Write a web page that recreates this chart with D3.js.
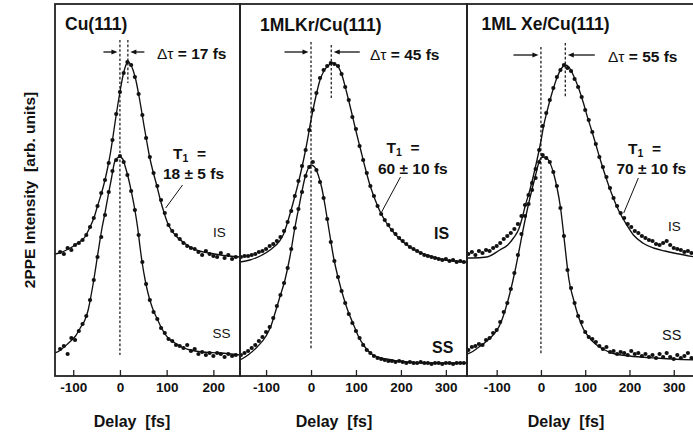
<!DOCTYPE html>
<html>
<head>
<meta charset="utf-8">
<script src="https://cdn.jsdelivr.net/npm/d3@7"></script>
<style>
html, body { margin: 0; padding: 0; background: #fff; }
svg { display: block; font-family: "Liberation Sans", Arial, Helvetica, sans-serif; }
text { white-space: pre; fill: #111; }
</style>
</head>
<body>
<svg id="chart" width="693" height="436"></svg>
<script>
// ---- Data: time-resolved 2PPE traces, image state (IS) and surface state (SS) ----
const panelTitles = ["Cu(111)", "1MLKr/Cu(111)", "1ML Xe/Cu(111)"];
const shiftValues = [17, 45, 55];                       // Δτ, fs
const lifetimeLabels = ["18 ± 5 fs", "60 ± 10 fs", "70 ± 10 fs"];
const tickValues = [[-100, 0, 100, 200], [-100, 0, 100, 200, 300], [-100, 0, 100, 200, 300]];
const delayDomains = [[-139, 257], [-158, 347], [-167, 348]];
const intensityDomain = [0, 372];

// Cu(111)
const cuDelays = [-128,-120,-112,-104,-96,-88,-80,-72,-64,-56,-48,-40,-32,-24,-16,-8,0,8,16,24,32,40,48,56,64,72,80,88,96,104,112,120,128,136,144,152,160,168,176,184,192,200,208,216,224,232,240,248];
const cuIS = [124,122,128,126,131,133,136,141,149,158,170,183,196,213,236,262,284,303,314,311,299,282,261,238,219,203,190,176,163,151,145,141,137,133,130,128,127,124,121,125,122,120,119,123,118,121,117,119];
const cuSS = [27,30,22,38,36,45,52,60,76,96,119,139,161,184,205,216,220,214,201,185,166,141,114,92,76,64,57,48,43,37,35,31,30,28,31,25,27,22,24,21,23,20,23,22,19,22,20,21];
const cuFitIS = [[-139,122],[-130,123],[-110,127],[-90,133],[-75,139],[-65,148],[-55,159],[-48,170],[-40,182],[-32,196],[-26,209],[-20,224],[-15,239],[-10,255],[-5,270],[0,284],[5,297],[10,307],[15,313],[18,314],[22,312],[28,306],[34,296],[40,282],[46,266],[52,249],[58,233],[64,218],[70,206],[78,192],[86,177],[94,164],[102,153],[110,146],[120,140],[135,134],[150,129],[170,125],[190,123],[215,121],[257,119]];
const cuFitSS = [[-139,23],[-130,25],[-110,33],[-95,40],[-85,48],[-75,56],[-68,66],[-62,80],[-56,96],[-50,114],[-44,132],[-38,149],[-32,163],[-25,181],[-18,198],[-12,213],[-6,218],[0,219],[6,217],[11,210],[18,198],[25,183],[32,166],[38,148],[43,129],[48,112],[54,96],[60,83],[66,73],[72,65],[80,57],[90,47],[103,38],[118,33],[132,29],[150,26],[175,24],[215,23],[257,21]];

// 1 ML Kr/Cu(111)
const krDelays = [-156,-148,-140,-132,-124,-116,-108,-100,-92,-84,-76,-68,-60,-52,-44,-36,-28,-20,-12,-4,4,12,20,28,36,44,52,60,68,76,84,92,100,108,116,124,132,140,148,156,164,172,180,188,196,204,212,220,228,236,244,252,260,268,276,284,292,300,308,316,324,332,340];
const krIS = [119,120,120,121,122,124,125,127,130,132,135,139,145,154,165,180,195,210,226,246,266,283,298,306,310,313,312,310,302,289,276,259,247,230,216,203,190,180,170,162,156,151,146,142,138,135,132,129,127,125,123,121,120,119,118,117,116,117,115,116,114,115,114];
const krSS = [21,23,25,28,31,35,39,44,49,58,70,81,93,108,127,148,167,184,200,209,214,206,194,178,157,134,115,99,85,73,62,53,45,38,31,26,23,20,18,17,16,15,15,14,15,14,13,14,13,13,14,13,13,12,13,13,12,13,13,12,13,13,13];
const krFitIS = [[-158,114],[-136,116],[-113,120],[-91,126],[-70,135],[-62,141],[-50,157],[-40,173],[-30,190],[-20,209],[-10,231],[0,256],[10,278],[20,296],[30,306],[40,311],[47,313],[57,311],[68,302],[79,284],[90,264],[100,245],[110,227],[120,209],[131,191],[142,177],[153,165],[168,153],[183,144],[205,134],[227,127],[257,121],[287,117],[347,114]];
const krFitSS = [[-158,16],[-140,21],[-120,29],[-100,40],[-90,49],[-80,63],[-70,78],[-58,96],[-47,119],[-36,148],[-26,171],[-13,199],[0,211],[8,209],[16,201],[24,188],[31,171],[40,146],[50,119],[61,97],[72,79],[83,64],[94,52],[105,40],[120,29],[138,21],[168,17],[213,14],[260,13],[347,13]];

// 1 ML Xe/Cu(111)
const xeDelays = [-164,-156,-148,-140,-132,-124,-116,-108,-100,-92,-84,-76,-68,-60,-52,-44,-36,-28,-20,-12,-4,4,12,20,28,36,44,52,60,68,76,84,92,100,108,116,124,132,140,148,156,164,172,180,188,196,204,212,220,228,236,244,252,260,268,276,284,292,300,308,316,324,332,340];
const xeIS = [122,124,121,125,123,126,125,128,130,133,137,140,143,147,152,160,171,181,193,207,226,250,263,276,288,299,306,311,308,305,297,289,279,266,256,244,232,219,209,199,188,178,170,163,158,152,149,145,143,140,138,136,135,132,131,133,135,131,128,127,126,124,125,123];
const xeSS = [26,29,30,32,31,36,38,43,46,54,64,73,87,103,121,142,160,172,186,198,214,221,218,214,204,190,168,140,106,88,73,60,54,44,39,37,34,30,27,29,24,25,22,24,23,21,25,22,23,20,22,19,21,18,22,19,23,19,17,21,18,20,23,18];
const xeFitIS = [[-167,118],[-156,118],[-122,119],[-93,126],[-75,131],[-62,138],[-50,147],[-43,157],[-35,171],[-25,186],[-15,204],[-5,224],[0,235],[6,250],[14,265],[25,283],[36,298],[47,308],[55,311],[63,309],[74,300],[85,288],[96,273],[105,259],[115,245],[125,230],[135,215],[145,201],[160,182],[175,166],[194,151],[209,141],[230,133],[254,128],[280,125],[300,123],[348,119]];
const xeFitSS = [[-167,22],[-156,24],[-140,29],[-122,35],[-108,41],[-99,46],[-90,54],[-80,67],[-70,83],[-60,102],[-50,124],[-40,147],[-30,168],[-20,187],[-12,201],[-5,213],[0,218],[8,219],[17,216],[29,202],[36,189],[44,169],[51,143],[57,119],[63,97],[74,76],[85,59],[96,47],[108,39],[123,32],[140,27],[160,23],[200,20],[260,18],[348,16]];

const series = [
  { delays: cuDelays, is: cuIS, ss: cuSS, fitIS: cuFitIS, fitSS: cuFitSS },
  { delays: krDelays, is: krIS, ss: krSS, fitIS: krFitIS, fitSS: krFitSS },
  { delays: xeDelays, is: xeIS, ss: xeSS, fitIS: xeFitIS, fitSS: xeFitSS }
];

// ---- Layout (pixels) ----
const plotTop = 4, plotBottom = 376;
const layout = [
  { x0: 55, x1: 240, title: [65, 30], dtau: [157, 59], arrowY: 52, arrowLen: [14, 14],
    zeroLine: [40, 355], shiftLine: [40, 83], t1: [173, 159], life: [163, 179],
    leader: [[134, 191], [98, 168]],
    isLbl: [213, 237, 13.5, "normal"], ssLbl: [212.5, 338, 13.5, "normal"], delayX: 132 },
  { x0: 240, x1: 467, title: [260, 31], dtau: [370, 60], arrowY: 52, arrowLen: [24, 26],
    zeroLine: [42, 349], shiftLine: [45, 98], t1: [386.5, 153], life: [378, 174],
    leader: [[199, 199], [157, 164]],
    isLbl: [434, 239, 16, "bold"], ssLbl: [432, 353, 16, "bold"], delayX: 334 },
  { x0: 467, x1: 695, title: [481.5, 30], dtau: [608, 61.5], arrowY: 55, arrowLen: [25, 27],
    zeroLine: [47, 355], shiftLine: [43, 98], t1: [628, 154], life: [616.5, 173.5],
    leader: [[220, 198], [187, 163]],
    isLbl: [668, 231, 13.5, "normal"], ssLbl: [662, 340, 14.5, "normal"], delayX: 566 }
];

const svg = d3.select("#chart");
const y = d3.scaleLinear().domain(intensityDomain).range([plotBottom, plotTop]);
const defs = svg.append("defs");
const ink = "#111";

series.forEach((s, i) => {
  const L = layout[i];
  const x = d3.scaleLinear().domain(delayDomains[i]).range([L.x0, L.x1]);
  const g = svg.append("g");

  defs.append("clipPath").attr("id", "clip" + i)
    .append("rect").attr("x", L.x0).attr("y", plotTop)
    .attr("width", L.x1 - L.x0).attr("height", plotBottom - plotTop);
  const plot = g.append("g").attr("clip-path", `url(#clip${i})`);

  // vertical markers at zero delay and at the IS peak shift
  plot.append("line")
    .attr("x1", x(0)).attr("x2", x(0))
    .attr("y1", L.zeroLine[0]).attr("y2", L.zeroLine[1])
    .attr("stroke", ink).attr("stroke-width", 1.2).attr("stroke-dasharray", "2.6,2");
  plot.append("line")
    .attr("x1", x(shiftValues[i])).attr("x2", x(shiftValues[i]))
    .attr("y1", L.shiftLine[0]).attr("y2", L.shiftLine[1])
    .attr("stroke", ink).attr("stroke-width", 1.2).attr("stroke-dasharray", "2.6,2");

  // fitted curves
  const line = d3.line().x(d => x(d[0])).y(d => y(d[1])).curve(d3.curveMonotoneX);
  [s.fitIS, s.fitSS].forEach(f => {
    plot.append("path").datum(f).attr("d", line)
      .attr("fill", "none").attr("stroke", ink).attr("stroke-width", 1.35);
  });

  // measured points
  [s.is, s.ss].forEach(vals => {
    plot.selectAll(null).data(s.delays.map((t, k) => [t, vals[k]])).enter()
      .append("circle")
      .attr("cx", d => x(d[0])).attr("cy", d => y(d[1])).attr("r", 2.1)
      .attr("fill", ink);
  });

  // bottom axis with inward ticks
  const axis = d3.axisBottom(x).tickValues(tickValues[i])
    .tickSizeInner(-6).tickSizeOuter(0).tickPadding(6)
    .tickFormat(d => String(d));
  const ax = g.append("g").attr("transform", `translate(0,${plotBottom})`).call(axis);
  ax.select(".domain").remove();
  ax.selectAll(".tick line").attr("stroke", "#222").attr("stroke-width", 1.3);
  ax.selectAll(".tick text").attr("font-size", 13.5).attr("font-weight", "bold")
    .attr("font-family", "Liberation Sans, Arial, sans-serif").attr("fill", ink);

  // panel frame
  g.append("rect").attr("x", L.x0).attr("y", plotTop)
    .attr("width", L.x1 - L.x0).attr("height", plotBottom - plotTop)
    .attr("fill", "none").attr("stroke", "#222").attr("stroke-width", 1.8);

  // title
  g.append("text").attr("x", L.title[0]).attr("y", L.title[1])
    .attr("font-size", 17.5).attr("font-weight", "bold").text(panelTitles[i]);

  // Δτ arrows
  const tipL = x(0) - 2.5, tipR = x(shiftValues[i]) + 2.5, ay = L.arrowY;
  g.append("line").attr("x1", tipL - L.arrowLen[0]).attr("x2", tipL - 5)
    .attr("y1", ay).attr("y2", ay).attr("stroke", ink).attr("stroke-width", 1.3);
  g.append("path").attr("d", `M${tipL},${ay}L${tipL - 6},${ay - 2.6}L${tipL - 6},${ay + 2.6}Z`).attr("fill", ink);
  g.append("line").attr("x1", tipR + L.arrowLen[1]).attr("x2", tipR + 5)
    .attr("y1", ay).attr("y2", ay).attr("stroke", ink).attr("stroke-width", 1.3);
  g.append("path").attr("d", `M${tipR},${ay}L${tipR + 6},${ay - 2.6}L${tipR + 6},${ay + 2.6}Z`).attr("fill", ink);

  const dt = g.append("text").attr("x", L.dtau[0]).attr("y", L.dtau[1]).attr("font-size", 15.5);
  dt.append("tspan").attr("font-weight", "normal").text("Δτ");
  dt.append("tspan").attr("font-weight", "bold").text(` = ${shiftValues[i]} fs`);

  // lifetime annotation
  const t1 = g.append("text").attr("x", L.t1[0]).attr("y", L.t1[1])
    .attr("font-size", 15.5).attr("font-weight", "bold");
  t1.append("tspan").text("T");
  t1.append("tspan").attr("font-size", 10.5).attr("dy", 3).text("1");
  t1.append("tspan").attr("dy", -3).text("  =");
  g.append("text").attr("x", L.life[0]).attr("y", L.life[1])
    .attr("font-size", 15.5).attr("font-weight", "bold").text(lifetimeLabels[i]);
  g.append("line")
    .attr("x1", x(L.leader[0][0])).attr("y1", y(L.leader[0][1]))
    .attr("x2", x(L.leader[1][0])).attr("y2", y(L.leader[1][1]))
    .attr("stroke", ink).attr("stroke-width", 1);

  // state labels
  g.append("text").attr("x", L.isLbl[0]).attr("y", L.isLbl[1])
    .attr("font-size", L.isLbl[2]).attr("font-weight", L.isLbl[3]).text("IS");
  g.append("text").attr("x", L.ssLbl[0]).attr("y", L.ssLbl[1])
    .attr("font-size", L.ssLbl[2]).attr("font-weight", L.ssLbl[3]).text("SS");

  // x-axis title
  g.append("text").attr("x", L.delayX).attr("y", 427).attr("text-anchor", "middle")
    .attr("font-size", 16).attr("font-weight", "bold").text("Delay  [fs]");
});

// y-axis title
svg.append("text").attr("transform", "translate(35,190) rotate(-90)")
  .attr("text-anchor", "middle").attr("font-size", 15.5).attr("font-weight", "bold")
  .text("2PPE Intensity  [arb. units]");
</script>
</body>
</html>
